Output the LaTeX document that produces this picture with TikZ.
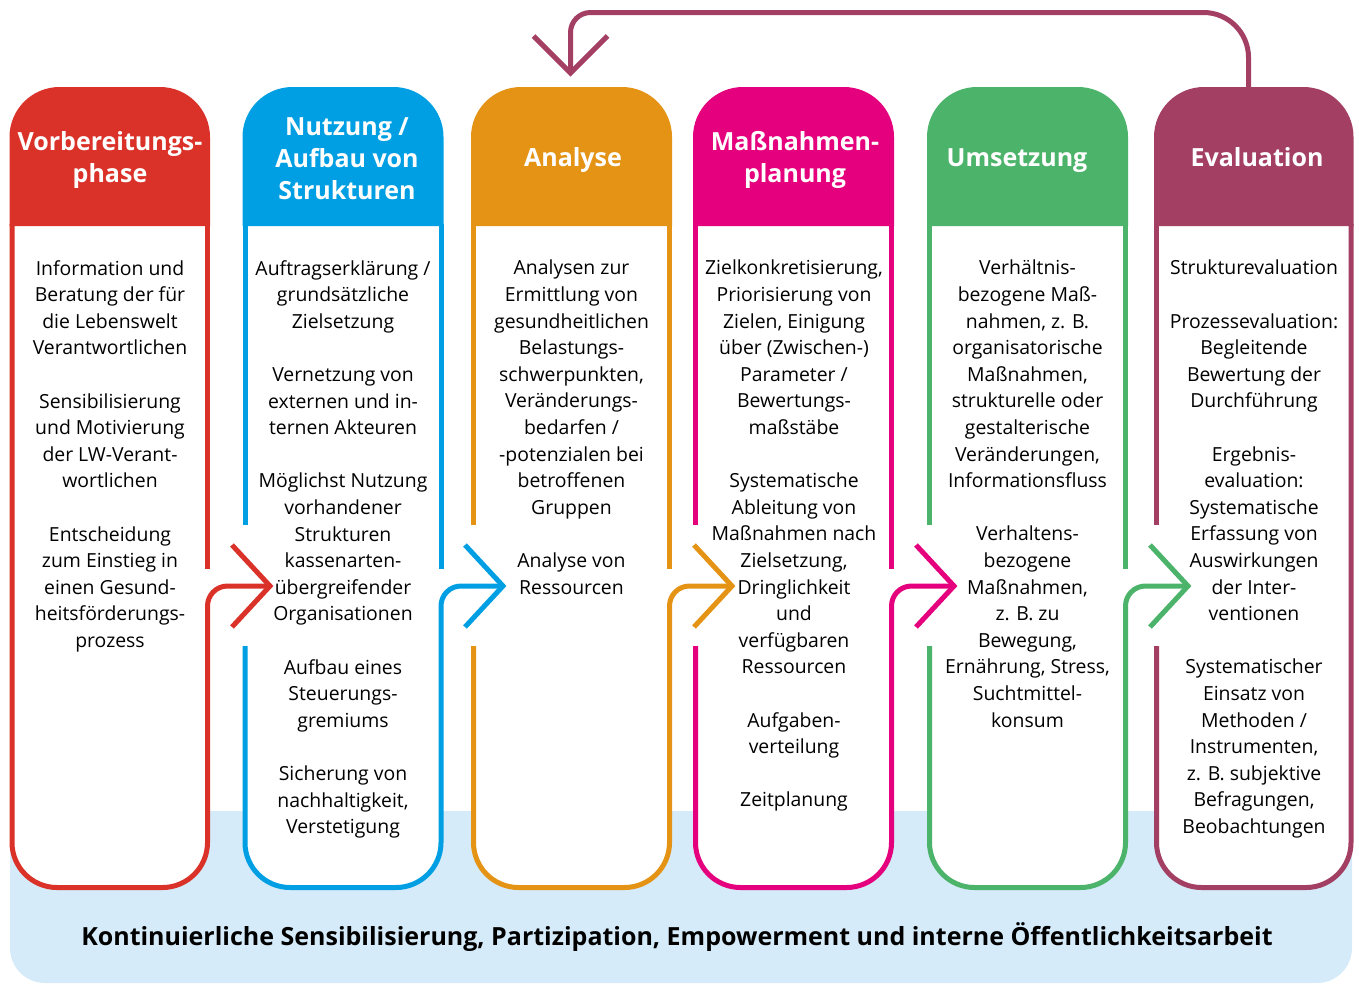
\documentclass[tikz,border=0pt]{standalone}
\usepackage{fontspec}
\setmainfont{Open Sans}
\usepackage{xcolor}
\usetikzlibrary{positioning}

\definecolor{vbred}{HTML}{DA3128}
\definecolor{nublue}{HTML}{009FE3}
\definecolor{anorange}{HTML}{E49315}
\definecolor{mpmagenta}{HTML}{E5007D}
\definecolor{umgreen}{HTML}{4CB36A}
\definecolor{evpurple}{HTML}{A33F63}
\definecolor{bandblue}{HTML}{D5EBF9}

\begin{document}
\begin{tikzpicture}[x=1pt, y=-1pt,
    rim/.style={line width=5pt},
    flow/.style={line width=5pt, rounded corners=20pt},
    tipv/.style={line width=5pt, line join=miter},
    head/.style={text=white, align=center, font=\bfseries\fontsize{25}{32}\selectfont},
    body/.style={anchor=north, inner sep=0pt, align=center, font=\fontsize{19.4}{26.6}\selectfont}]

    \useasboundingbox (0,0) rectangle (1359,983);

    % Background band
    \fill[bandblue, rounded corners=35pt] (10,811) rectangle (1352,983);
    \node[font=\bfseries\fontsize{25}{30}\selectfont] (motto) at (677,937)
        {Kontinuierliche Sensibilisierung, Partizipation, Empowerment und interne Öffentlichkeitsarbeit};

    % Vorbereitungsphase
    \fill[white, rounded corners=45pt] (12,226) |- (110,887.5) -| (207.5,226);
    \fill[vbred, rounded corners=50pt] (9.5,226) |- (110,87) -| (210,226);
    \draw[rim, vbred, rounded corners=45pt] (12,224) |- (110,887.5) -| (207.5,700) coordinate (vb-out);
    \draw[rim, vbred] (207.5,224) -- (207.5,569);
    \node[head] (vb) at (110,160) {Vorbereitungs-\\phase};
    \node[body] (vb-text) at (110,260)
        {Information und\\Beratung der für\\die Lebenswelt\\Verantwortlichen\\[26.6pt]
         Sensibilisierung\\und Motivierung\\der LW-Verant-\\wortlichen\\[26.6pt]
         Entscheidung\\zum Einstieg in\\einen Gesund-\\heitsförderungs-\\prozess};

    % Nutzung / Aufbau von Strukturen
    \fill[white, rounded corners=45pt] (245,226) |- (343,887.5) -| (441,226);
    \fill[nublue, rounded corners=50pt] (242.5,226) |- (343,87) -| (443.5,226);
    \draw[rim, nublue] (245,224) -- (245,525);
    \draw[rim, nublue, rounded corners=45pt] (245,646) |- (343,887.5) -| (441,700) coordinate (nu-out);
    \draw[rim, nublue] (441,224) -- (441,569);
    \node[head] (nu) at (347,159) {Nutzung /\\Aufbau von\\Strukturen};
    \node[body] (nu-text) at (343,260)
        {Auftragserklärung /\\grundsätzliche\\Zielsetzung\\[26.6pt]
         Vernetzung von\\externen und in-\\ternen Akteuren\\[26.6pt]
         Möglichst Nutzung\\vorhandener\\Strukturen\\kassenarten-\\übergreifender\\Organisationen\\[26.6pt]
         Aufbau eines\\Steuerungs-\\gremiums\\[26.6pt]
         Sicherung von\\nachhaltigkeit,\\Verstetigung};

    % Analyse
    \fill[white, rounded corners=45pt] (473.5,226) |- (571.5,887.5) -| (669.5,226);
    \fill[anorange, rounded corners=50pt] (471,226) |- (571.5,87) -| (672,226);
    \draw[rim, anorange] (473.5,224) -- (473.5,525);
    \draw[rim, anorange, rounded corners=45pt] (473.5,646) |- (571.5,887.5) -| (669.5,700) coordinate (an-out);
    \draw[rim, anorange] (669.5,224) -- (669.5,569);
    \node[head] (an) at (573,160) {Analyse};
    \node[body] (an-text) at (571.5,260)
        {Analysen zur\\Ermittlung von\\gesundheitlichen\\Belastungs-\\schwerpunkten,\\Veränderungs-\\bedarfen /\\-potenzialen bei\\betroffenen\\Gruppen\\[26.6pt]
         Analyse von\\Ressourcen};

    % Maßnahmenplanung
    \fill[white, rounded corners=45pt] (695.5,226) |- (793.5,887.5) -| (891.5,226);
    \fill[mpmagenta, rounded corners=50pt] (693,226) |- (793.5,87) -| (894,226);
    \draw[rim, mpmagenta] (695.5,224) -- (695.5,525);
    \draw[rim, mpmagenta, rounded corners=45pt] (695.5,646) |- (793.5,887.5) -| (891.5,700) coordinate (mp-out);
    \draw[rim, mpmagenta] (891.5,224) -- (891.5,569);
    \node[head] (mp) at (795,160) {Maßnahmen-\\planung};
    \node[body] (mp-text) at (794,260)
        {Zielkonkretisierung,\\Priorisierung von\\Zielen, Einigung\\über (Zwischen-)\\Parameter /\\Bewertungs-\\maßstäbe\\[26.6pt]
         Systematische\\Ableitung von\\Maßnahmen nach\\Zielsetzung,\\Dringlichkeit\\und\\verfügbaren\\Ressourcen\\[26.6pt]
         Aufgaben-\\verteilung\\[26.6pt]
         Zeitplanung};

    % Umsetzung
    \fill[white, rounded corners=45pt] (929.5,226) |- (1027.5,887.5) -| (1125.5,226);
    \fill[umgreen, rounded corners=50pt] (927,226) |- (1027.5,87) -| (1128,226);
    \draw[rim, umgreen] (929.5,224) -- (929.5,525);
    \draw[rim, umgreen, rounded corners=45pt] (929.5,646) |- (1027.5,887.5) -| (1125.5,700) coordinate (um-out);
    \draw[rim, umgreen] (1125.5,224) -- (1125.5,569);
    \node[head] (um) at (1017,161) {Umsetzung};
    \node[body] (um-text) at (1027.5,260)
        {Verhältnis-\\bezogene Maß-\\nahmen, z. B.\\organisatorische\\Maßnahmen,\\strukturelle oder\\gestalterische\\Veränderungen,\\Informationsfluss\\[26.6pt]
         Verhaltens-\\bezogene\\Maßnahmen,\\z. B. zu\\Bewegung,\\Ernährung, Stress,\\Suchtmittel-\\konsum};

    % Evaluation
    \fill[white, rounded corners=45pt] (1156.5,226) |- (1253.75,887.5) -| (1351,226);
    \fill[evpurple, rounded corners=50pt] (1154,226) |- (1253.75,87) -| (1353.5,226);
    \draw[rim, evpurple] (1156.5,224) -- (1156.5,525);
    \draw[rim, evpurple, rounded corners=45pt] (1156.5,646) |- (1253.75,887.5) -| (1351,224);
    \node[head] (ev) at (1257,157) {Evaluation};
    \node[body] (ev-text) at (1254,260)
        {Strukturevaluation\\[26.6pt]
         Prozessevaluation:\\Begleitende\\Bewertung der\\Durchführung\\[26.6pt]
         Ergebnis-\\evaluation:\\Systematische\\Erfassung von\\Auswirkungen\\der Inter-\\ventionen\\[26.6pt]
         Systematischer\\Einsatz von\\Methoden /\\Instrumenten,\\z. B. subjektive\\Befragungen,\\Beobachtungen};

    % Connector targets
    \coordinate (nu-in) at (270,586);
    \coordinate (an-in) at (503,586);
    \coordinate (mp-in) at (732,586);
    \coordinate (um-in) at (954,586);
    \coordinate (ev-in) at (1188,586);
    \coordinate (ev-top) at (1248.5,87);
    \coordinate (loop-turn) at (900,12.5);
    \coordinate (an-top) at (570.5,73);

    % Step arrows
    \draw[flow, vbred] (vb-out) |- (nu-in);
    \draw[tipv, vbred] ([shift={(-38,-41)}]nu-in) -- (nu-in) -- ([shift={(-38,41)}]nu-in);
    \draw[flow, nublue] (nu-out) |- (an-in);
    \draw[tipv, nublue] ([shift={(-38,-41)}]an-in) -- (an-in) -- ([shift={(-38,41)}]an-in);
    \draw[flow, anorange] (an-out) |- (mp-in);
    \draw[tipv, anorange] ([shift={(-38,-41)}]mp-in) -- (mp-in) -- ([shift={(-38,41)}]mp-in);
    \draw[flow, mpmagenta] (mp-out) |- (um-in);
    \draw[tipv, mpmagenta] ([shift={(-38,-41)}]um-in) -- (um-in) -- ([shift={(-38,41)}]um-in);
    \draw[flow, umgreen] (um-out) |- (ev-in);
    \draw[tipv, umgreen] ([shift={(-38,-41)}]ev-in) -- (ev-in) -- ([shift={(-38,41)}]ev-in);

    % Feedback loop back to the analysis
    \draw[rim, evpurple, rounded corners=45pt] (ev-top) |- (loop-turn);
    \draw[rim, evpurple, rounded corners=20pt] (loop-turn) -| (an-top);
    \draw[tipv, evpurple] ([shift={(-37,-37)}]an-top) -- (an-top) -- ([shift={(37,-37)}]an-top);
\end{tikzpicture}
\end{document}
